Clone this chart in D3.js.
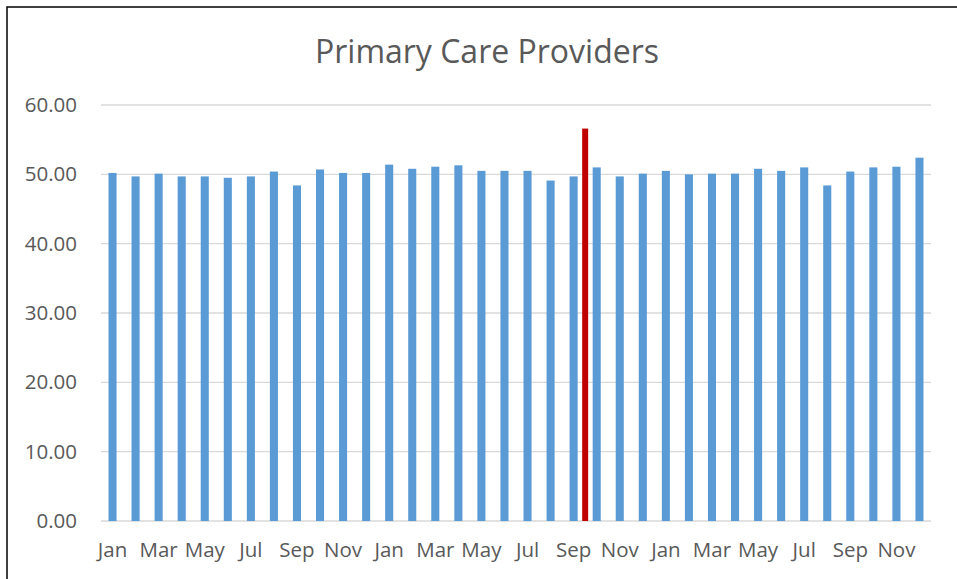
<!DOCTYPE html>
<html>
<head>
<meta charset="utf-8">
<script src="https://cdn.jsdelivr.net/npm/d3@7"></script>
<style>
  body { margin: 0; background: #fff; }
  text { font-family: "Open Sans", sans-serif; fill: #595959; }
</style>
</head>
<body>
<div id="chart"></div>
<script>
var svgWidth = 957;
var svgHeight = 579;

// months shown three years in a row
var monthNames = ["Jan", "Feb", "Mar", "Apr", "May", "Jun", "Jul", "Aug", "Sep", "Oct", "Nov", "Dec"];
var years = [1, 2, 3];
var values = [
  50.2, 49.7, 50.1, 49.7, 49.7, 49.5, 49.7, 50.4, 48.4, 50.7, 50.2, 50.2,
  51.4, 50.8, 51.1, 51.3, 50.5, 50.5, 50.5, 49.1, 49.7, 51.0, 49.7, 50.1,
  50.5, 50.0, 50.1, 50.1, 50.8, 50.5, 51.0, 48.4, 50.4, 51.0, 51.1, 52.4
];
// red marker sits between Sep and Oct of the second year
var markerAfter = "Sep-2";
var markerValue = 56.6;
var yTicks = [0, 10, 20, 30, 40, 50, 60];

var categories = [];
years.forEach(function(y) {
  monthNames.forEach(function(m) { categories.push(m + "-" + y); });
});

var data = categories.map(function(c, i) { return { cat: c, value: values[i] }; });

var margin = { top: 105, right: 26, bottom: 58, left: 101 };
var width = svgWidth - margin.left - margin.right;
var height = svgHeight - margin.top - margin.bottom;

var svg = d3.select("#chart")
  .append("svg")
  .attr("width", svgWidth)
  .attr("height", svgHeight);

// outer border (cut off at right and bottom)
svg.append("rect")
  .attr("x", 7)
  .attr("y", 7)
  .attr("width", 980)
  .attr("height", 600)
  .attr("fill", "none")
  .attr("stroke", "#000")
  .attr("stroke-width", 1.5);

svg.append("text")
  .attr("x", 487)
  .attr("y", 63)
  .attr("text-anchor", "middle")
  .style("font-size", "32px")
  .text("Primary Care Providers");

var chartGroup = svg.append("g")
  .attr("transform", `translate(${margin.left}, ${margin.top})`);

var xScale = d3.scaleBand()
  .domain(categories)
  .range([0, width])
  .paddingInner(0.65)
  .paddingOuter(0.325);

var yScale = d3.scaleLinear()
  .domain([0, 60])
  .range([height, 0]);

// gridlines
chartGroup.append("g")
  .selectAll("line")
  .data(yTicks)
  .enter()
  .append("line")
  .attr("x1", 0)
  .attr("x2", width)
  .attr("y1", d => yScale(d))
  .attr("y2", d => yScale(d))
  .attr("stroke", "#d9d9d9")
  .attr("stroke-width", 1.3);

// y axis labels
var leftAxis = d3.axisLeft(yScale)
  .tickValues(yTicks)
  .tickFormat(d3.format(".2f"))
  .tickSize(0)
  .tickPadding(24);

chartGroup.append("g")
  .call(leftAxis)
  .call(g => g.select(".domain").remove())
  .selectAll("text")
  .style("font-size", "20.5px")
  .attr("fill", "#595959");

// x axis labels, every other month
var bottomAxis = d3.axisBottom(xScale)
  .tickValues(categories.filter((c, i) => i % 2 === 0))
  .tickFormat(d => d.split("-")[0])
  .tickSize(0)
  .tickPadding(21);

chartGroup.append("g")
  .attr("transform", `translate(0, ${height})`)
  .call(bottomAxis)
  .call(g => g.select(".domain").remove())
  .selectAll("text")
  .style("font-size", "20.5px")
  .attr("fill", "#595959");

// bars
chartGroup.selectAll(".bar")
  .data(data)
  .enter()
  .append("rect")
  .attr("class", "bar")
  .attr("x", d => xScale(d.cat))
  .attr("y", d => yScale(d.value))
  .attr("width", xScale.bandwidth())
  .attr("height", d => height - yScale(d.value))
  .attr("fill", "#5b9bd5");

// red marker bar
var markerW = 6;
var markerX = xScale(markerAfter) + xScale.bandwidth() / 2 + xScale.step() / 2;
chartGroup.append("rect")
  .attr("x", markerX - markerW / 2)
  .attr("y", yScale(markerValue))
  .attr("width", markerW)
  .attr("height", height - yScale(markerValue))
  .attr("fill", "#c00000");
</script>
</body>
</html>
